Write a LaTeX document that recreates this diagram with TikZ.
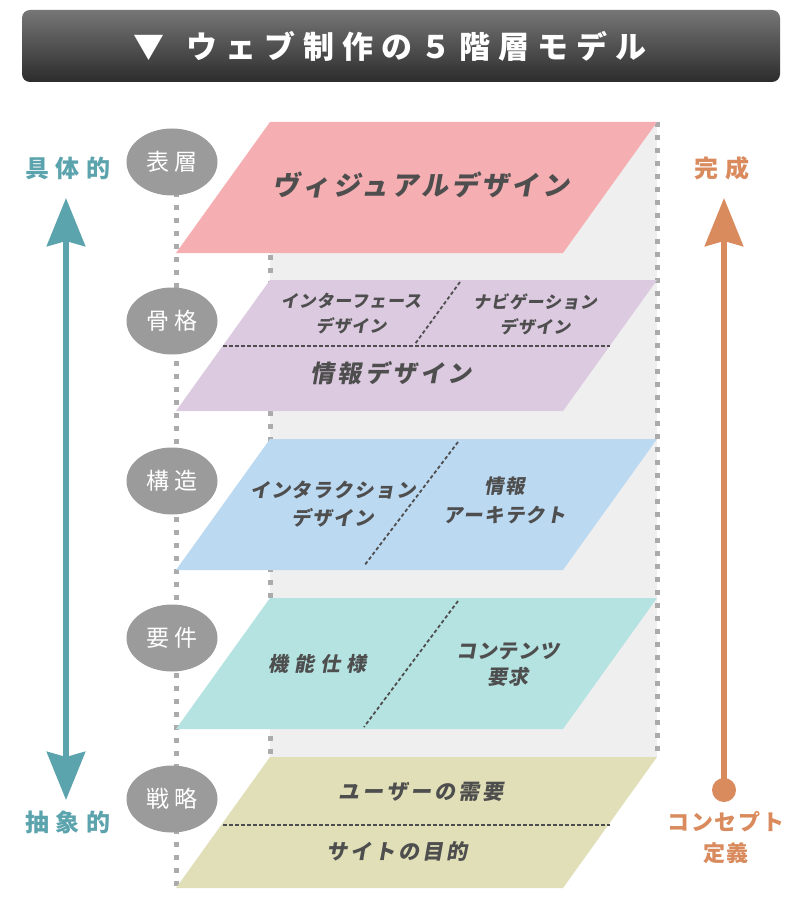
\documentclass[tikz,border=0pt]{standalone}
\usepackage{fontspec}
\setmainfont{Noto Sans CJK JP}
\newfontfamily\jpslant{Noto Sans CJK JP}[FakeSlant=0.18]
\usetikzlibrary{arrows.meta,shapes.geometric}
\definecolor{bartop}{HTML}{767676}
\definecolor{barbottom}{HTML}{2C2C2C}
\definecolor{guidegray}{HTML}{ABABAB}
\definecolor{panelgray}{HTML}{EFEFEF}
\definecolor{taggray}{HTML}{9B9B9B}
\definecolor{inkgray}{HTML}{4E4E4E}
\definecolor{surfacepink}{HTML}{F5AEB1}
\definecolor{skeletonlilac}{HTML}{DCCAE0}
\definecolor{structureblue}{HTML}{BCD9F2}
\definecolor{scopeteal}{HTML}{B5E3E2}
\definecolor{strategyolive}{HTML}{E0DFB8}
\definecolor{abstractteal}{HTML}{5BA3AD}
\definecolor{doneorange}{HTML}{D98B5D}

\tikzset{
  guide/.style={guidegray, line width=5pt, dash pattern=on 5pt off 8pt},
  divider/.style={inkgray, line width=1.8pt, dash pattern=on 3.5pt off 2.5pt},
  tag/.style={ellipse, fill=taggray, minimum width=91, minimum height=67,
    inner sep=0pt, text=white,
    font={\fontsize{23}{25}\selectfont\addfontfeature{LetterSpace=24}}},
  layertext/.style={text=inkgray, align=center, inner sep=0pt},
  axislabel/.style={align=center, inner sep=0pt,
    font={\bfseries\fontsize{24}{31}\selectfont\addfontfeature{LetterSpace=26}}},
}
\newcommand{\lfont}[2]{\jpslant\bfseries\fontsize{#1}{#2}\selectfont}

\begin{document}
\begin{tikzpicture}[x=1pt, y=-1pt]
  \useasboundingbox[fill=white] (0,0) rectangle (800,909);

  % title bar
  \shade[top color=bartop, bottom color=barbottom, rounded corners=8pt]
    (22,10) rectangle (780,82);
  \node[text=white, inner sep=0pt,
        font={\bfseries\fontsize{31}{33}\selectfont\addfontfeature{LetterSpace=26}}]
    (title) at (390,46) {▼\hspace{22pt}ウェブ制作の５階層モデル};

  % light panel behind the stack
  \fill[panelgray] (270,122) rectangle (657,757);

  % dotted guides
  \draw[guide] (176,166) -- (176,886);
  \draw[guide] (270,255) -- (270,757);
  \draw[guide] (657,122) -- (657,757);

  % five planes
  \foreach \t/\c in {122/surfacepink, 280/skeletonlilac, 439/structureblue,
                     598/scopeteal, 757/strategyolive}
    \fill[\c] (270,\t) -- (657,\t) -- (563,\t+131) -- (176,\t+131) -- cycle;

  % dividers inside the planes
  \coordinate (skelMidL) at (223,346);
  \coordinate (skelMidR) at (610,346);
  \coordinate (skelCutT) at (460,282);
  \coordinate (skelCutB) at (415,344);
  \draw[divider] (skelMidL) -- (skelMidR);
  \draw[divider] (skelCutT) -- (skelCutB);
  \coordinate (strucCutT) at (458,442);
  \coordinate (strucCutB) at (364,566);
  \draw[divider] (strucCutT) -- (strucCutB);
  \coordinate (scopeCutT) at (458,601);
  \coordinate (scopeCutB) at (364,727);
  \draw[divider] (scopeCutT) -- (scopeCutB);
  \coordinate (stratMidL) at (223,825);
  \coordinate (stratMidR) at (610,825);
  \draw[divider] (stratMidL) -- (stratMidR);

  % plane names
  \node[tag] (tagSurface)   at (172,162) {表層};
  \node[tag] (tagSkeleton)  at (172,321) {骨格};
  \node[tag] (tagStructure) at (172,481) {構造};
  \node[tag] (tagScope)     at (172,638) {要件};
  \node[tag] (tagStrategy)  at (172,799) {戦略};

  % plane contents
  \node[layertext, font={\lfont{27}{30}\addfontfeature{LetterSpace=12}}]
    (visual) at (421,185) {ヴィジュアルデザイン};
  \node[layertext, font={\lfont{17}{25}\addfontfeature{LetterSpace=5}}]
    (interface) at (351,314) {インターフェース\\デザイン};
  \node[layertext, font={\lfont{17}{25}\addfontfeature{LetterSpace=5}}]
    (navigation) at (535,314) {ナビゲーション\\デザイン};
  \node[layertext, font={\lfont{24}{26}\addfontfeature{LetterSpace=15}}]
    (infodesign) at (391,373) {情報デザイン};
  \node[layertext, font={\lfont{19.5}{28}\addfontfeature{LetterSpace=7}}]
    (interaction) at (333,504) {インタラクション\\デザイン};
  \node[layertext, font={\lfont{19.5}{29}\addfontfeature{LetterSpace=7}}]
    (architecture) at (505,500) {情報\\アーキテクト};
  \node[layertext, font={\lfont{20}{22}\addfontfeature{LetterSpace=30}}]
    (functional) at (317,664) {機能仕様};
  \node[layertext, font={\lfont{20}{26}\addfontfeature{LetterSpace=3}}]
    (content) at (508,665) {コンテンツ\\要求};
  \node[layertext, font={\lfont{21}{24}\addfontfeature{LetterSpace=14}}]
    (userneeds) at (421,792) {ユーザーの需要};
  \node[layertext, font={\lfont{21}{24}\addfontfeature{LetterSpace=14}}]
    (siteobj) at (397,851) {サイトの目的};

  % left axis: concrete <-> abstract
  \node[axislabel, text=abstractteal] (concrete) at (68,168) {具体的};
  \node[axislabel, text=abstractteal] (abstract) at (68,822) {抽象的};
  \coordinate (absTop) at (66,198);
  \coordinate (absBot) at (66,800);
  \draw[abstractteal, line width=6.5pt,
        {Stealth[length=48pt, width=38pt, inset=5pt]}-{Stealth[length=48pt, width=38pt, inset=5pt]}]
    (absTop) -- (absBot);

  % right axis: concept -> completion
  \node[axislabel, text=doneorange] (complete) at (722,168) {完成};
  \node[axislabel, text=doneorange,
        font={\bfseries\fontsize{22}{31}\selectfont\addfontfeature{LetterSpace=8}}]
    (concept) at (726,838) {コンセプト\\定義};
  \node[circle, fill=doneorange, minimum size=24, inner sep=0pt] (seed) at (724,790) {};
  \coordinate (doneTop) at (724,198);
  \draw[doneorange, line width=6.5pt, -{Stealth[length=48pt, width=38pt, inset=5pt]}]
    (seed.center) -- (doneTop);
\end{tikzpicture}
\end{document}
